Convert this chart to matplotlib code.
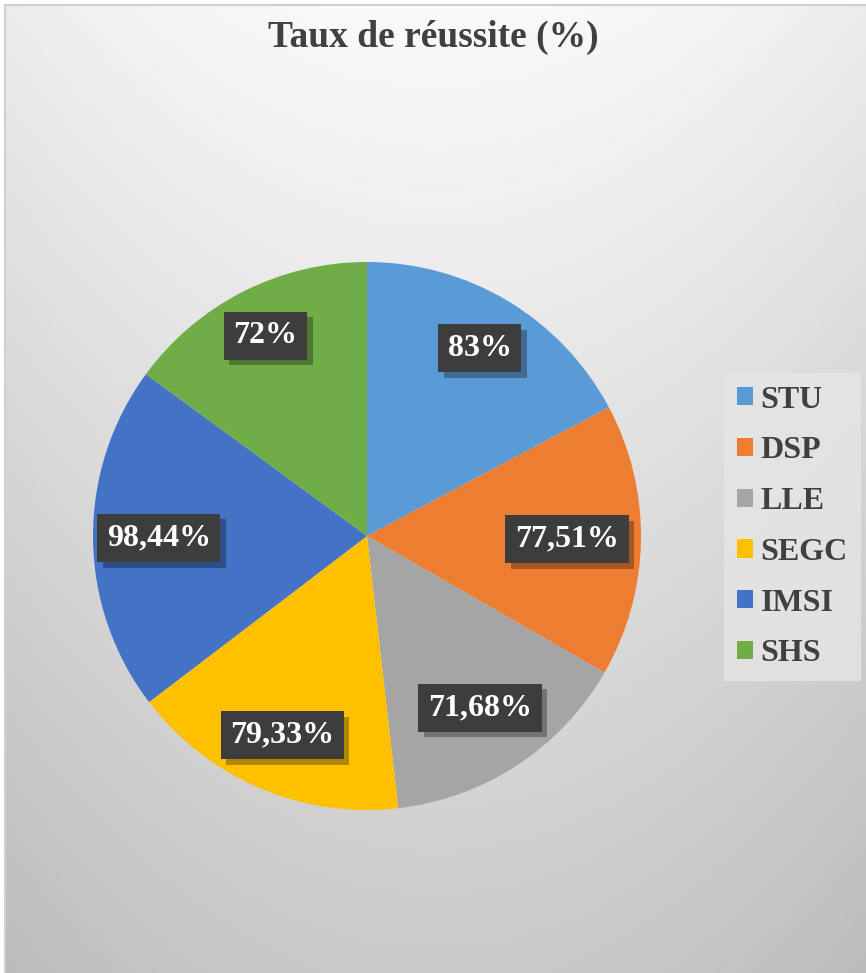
import matplotlib.pyplot as plt
import matplotlib.patheffects as pe
from matplotlib.patches import Rectangle
import numpy as np

plt.rcParams.update({"font.family": "Liberation Serif"})

# Données
categories = ["STU", "DSP", "LLE", "SEGC", "IMSI", "SHS"]
taux = [83, 77.51, 71.68, 79.33, 98.44, 72]
etiquettes = ["83%", "77,51%", "71,68%", "79,33%", "98,44%", "72%"]
couleurs = ["#5B9BD5", "#ED7D31", "#A5A5A5", "#FFC000", "#4472C4", "#70AD47"]
GRIS_TEXTE = "#404040"
# distance radiale des étiquettes (placement "meilleur ajustement" d'Excel)
dist_etiq = [0.80, 0.73, 0.75, 0.79, 0.76, 0.82]

W, H = 866, 973
fig = plt.figure(figsize=(W / 100, H / 100), dpi=100)
fig.patch.set_facecolor("white")

# Fond en dégradé (clair en haut, gris en bas)
bg = fig.add_axes([5 / W, 0, 1 - 5 / W, 1 - 5 / H])
yy, xx = np.mgrid[0:1:200j, 0:1:200j]
v = 250 - 48 * yy - 14 * (np.abs(xx - 0.5) * 2) ** 2
bg.imshow(np.dstack([v, v, v]).astype(np.uint8), aspect="auto",
          extent=[0, 1, 0, 1], origin="upper")
bg.axis("off")
fig.add_artist(Rectangle((4.5 / W, -0.1), 1.2, 1.1 - 4.5 / H,
                         transform=fig.transFigure, fill=False,
                         edgecolor="#d0d0d0", linewidth=1.5))

# Camembert
r = 274
cx, cy = 367, 536
ax = fig.add_axes([(cx - r) / W, 1 - (cy + r) / H, 2 * r / W, 2 * r / H])
wedges, texts = ax.pie(taux, colors=couleurs, startangle=90, counterclock=False,
                       labels=etiquettes, labeldistance=1.0,
                       wedgeprops=dict(linewidth=0))
ax.set_aspect("equal")
ax.set_xlim(-1, 1); ax.set_ylim(-1, 1)

for t, d in zip(texts, dist_etiq):
    x, y = t.get_position()
    t.set_position((x * d, y * d))
    t.set_ha("center"); t.set_va("center")
    t.set_fontsize(23); t.set_fontweight("bold"); t.set_color("white")
    t.set_bbox(dict(boxstyle="square,pad=0.3", facecolor="#3d3d3d",
                    edgecolor="none", linewidth=0))
    t.get_bbox_patch().set_path_effects([
        pe.withSimplePatchShadow(offset=(4, -4), shadow_rgbFace="black", alpha=0.3),
        pe.Normal()])

# Titre
fig.text(0.5, 1 - 37 / H, "Taux de réussite (%)", ha="center", va="center",
         fontsize=27, fontweight="bold", color=GRIS_TEXTE)

# Légende
leg = fig.legend(wedges, categories, loc="center left",
                 bbox_to_anchor=(724 / W, 1 - 527 / H), frameon=True,
                 prop=dict(family="Liberation Serif", weight="bold", size=23),
                 labelcolor=GRIS_TEXTE, handlelength=0.5, handleheight=0.5,
                 handletextpad=0.25, labelspacing=0.68, borderpad=0.4,
                 borderaxespad=0, fancybox=False)
leg.get_frame().set_facecolor("#e6e6e6")
leg.get_frame().set_alpha(0.8)
leg.get_frame().set_linewidth(0)

fig.savefig("out.png", dpi=100)
